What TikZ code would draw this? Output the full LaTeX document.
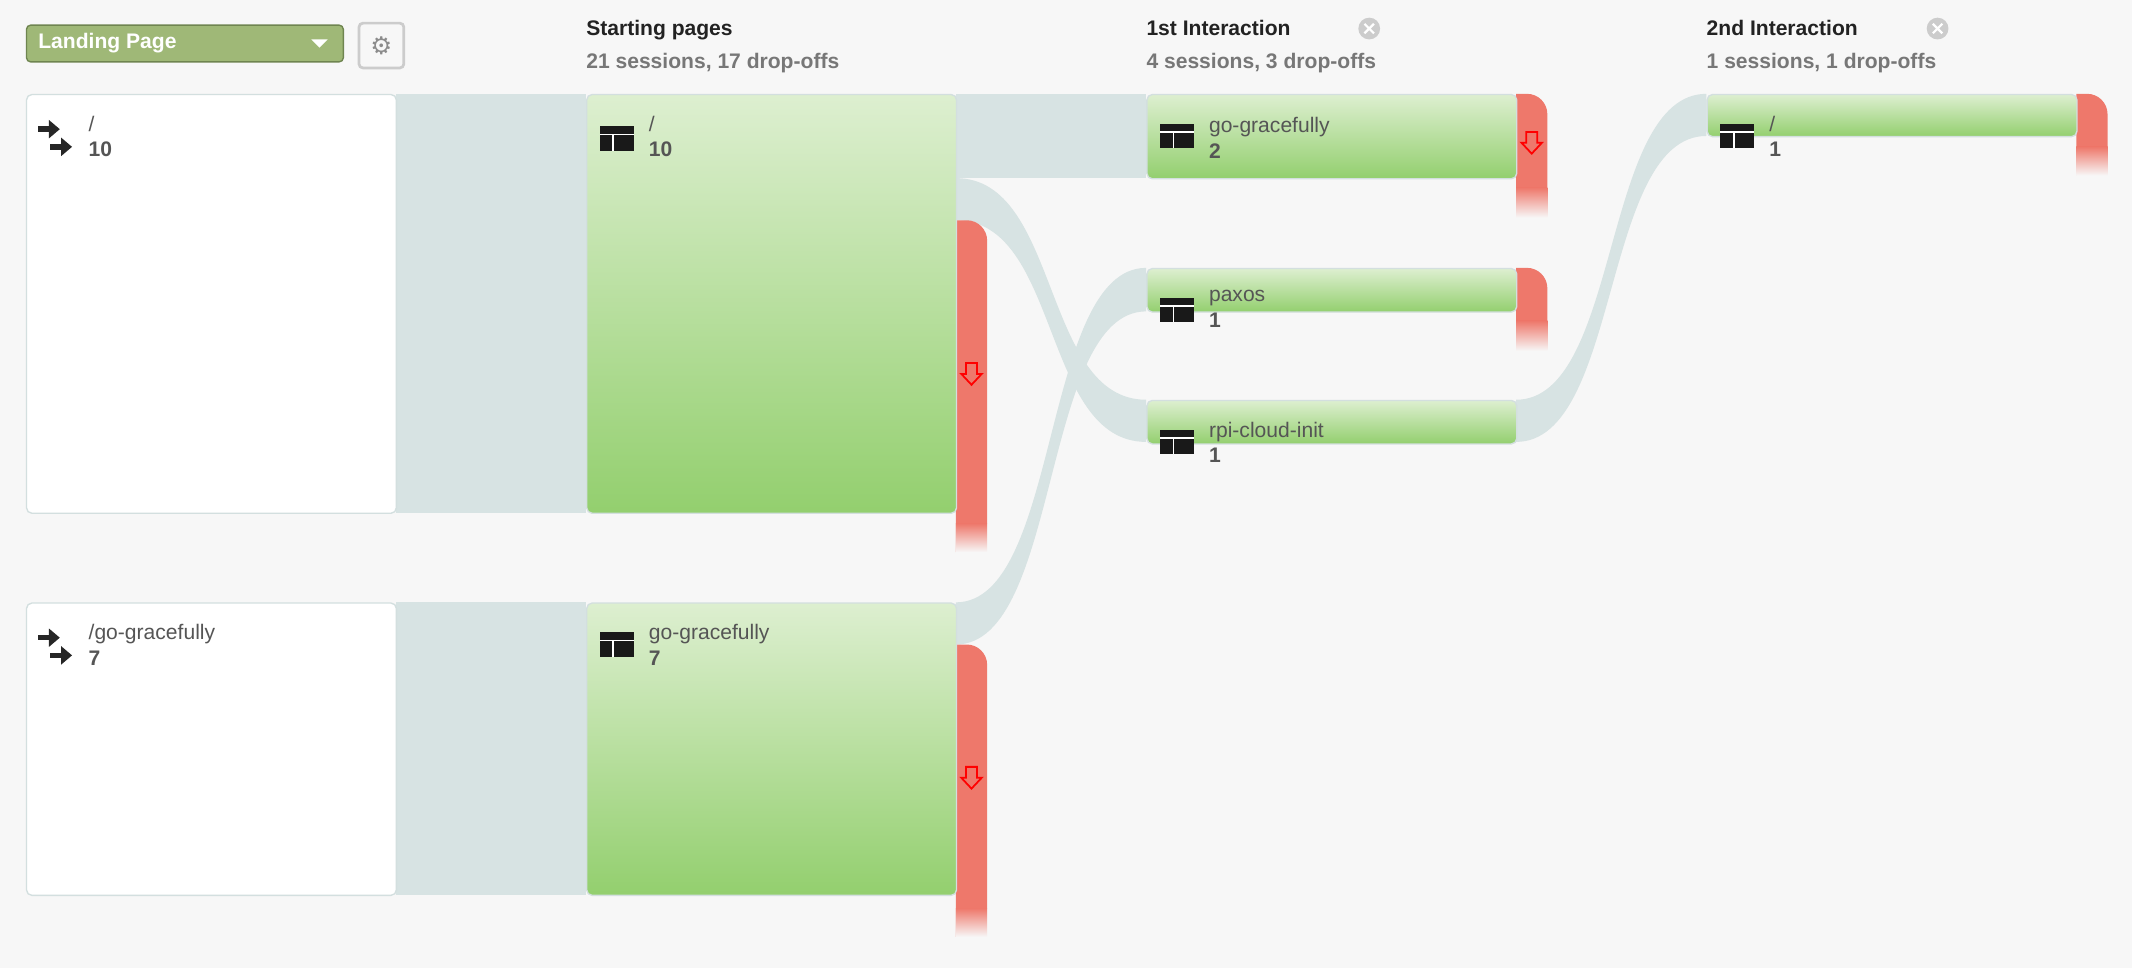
\documentclass[tikz,border=0pt]{standalone}
\usepackage{fontspec}
\setmainfont{Liberation Sans}
\newfontfamily\symfont{DejaVu Sans}
\usetikzlibrary{arrows.meta}
\definecolor{bg}{HTML}{F7F7F7}
\definecolor{band}{HTML}{D7E3E3}
\definecolor{gtop}{HTML}{DDEFD0}
\definecolor{gbot}{HTML}{93CF6E}
\definecolor{drop}{HTML}{EE786B}
\definecolor{txt}{HTML}{555555}
\definecolor{hdr}{HTML}{222222}
\definecolor{sub}{HTML}{777777}
\definecolor{ddfill}{HTML}{9FB877}
\definecolor{dddraw}{HTML}{6F8550}
\definecolor{boxline}{HTML}{D3DFDF}
\tikzset{
  x=1pt,y=-1pt,
  landbox/.style={draw=boxline,fill=white,rounded corners=4pt,line width=1pt,anchor=north west,inner sep=0pt},
  pagebox/.style={draw=boxline,top color=gtop,bottom color=gbot,rounded corners=4pt,line width=1pt,anchor=north west,inner sep=0pt},
  lbl/.style={anchor=north west,inner sep=0pt,align=left,font=\fontsize{15.5}{19}\selectfont,text=txt},
  hdrtxt/.style={anchor=north west,inner sep=0pt,align=left,font=\bfseries\fontsize{15.5}{24}\selectfont},
  bandfill/.style={fill=band},
  droparrow/.style={draw=red,line width=1.3pt,line join=miter}
}
\newcommand{\pageicon}[2]{%
  \fill[black!90] (#1,#2) rectangle ++(25,18);
  \draw[white,line width=1.3pt] (#1,#2+6) -- ++(25,0) (#1+10,#2+6) -- ++(0,12);}
\newcommand{\landicon}[2]{%
  \draw[black!85,line width=4pt,-{Triangle[length=8pt,width=13pt]}] (#1,#2) -- ++(16,0);
  \draw[black!85,line width=4pt,-{Triangle[length=8pt,width=13pt]}] (#1+9,#2+13) -- ++(16,0);}
\newcommand{\dropbar}[4]{% x, ytop, ybottom solid, yfade end
  \fill[drop] (#1,#4) -- (#1,#2) -- (#1+8,#2) arc[start angle=270,end angle=360,radius=15] -- (#1+23,#3) -- (#1,#3) -- cycle;
  \shade[top color=drop,bottom color=bg] (#1,#3) rectangle (#1+23,#4);}
\newcommand{\downarr}[2]{%
  \draw[droparrow] (#1-4,#2-8) -- (#1+4,#2-8) -- (#1+4,#2) -- (#1+7.5,#2) -- (#1,#2+8) -- (#1-7.5,#2) -- (#1-4,#2) -- cycle;}
\newcommand{\closeicon}[2]{%
  \fill[black!20] (#1,#2) circle[radius=8];
  \draw[white,line width=1.6pt] (#1-3.5,#2-3.5) -- (#1+3.5,#2+3.5) (#1-3.5,#2+3.5) -- (#1+3.5,#2-3.5);}
\begin{document}
\begin{tikzpicture}
\fill[bg] (0,0) rectangle (1568,712);
\useasboundingbox (0,0) rectangle (1568,712);

% top controls
\node[draw=dddraw,fill=ddfill,rounded corners=3pt,line width=1pt,anchor=north west,minimum width=233pt,minimum height=27pt,inner sep=0pt] (dd) at (19,18) {};
\node[anchor=west,text=white,font=\bfseries\fontsize{15.5}{18}\selectfont,inner sep=0pt] (ddt) at (28,31.5) {Landing Page};
\fill[white] (229,29) -- (241,29) -- (235,35) -- cycle;
\node[draw=black!20,fill=bg,rounded corners=3pt,line width=2pt,anchor=north west,minimum width=33pt,minimum height=33pt,inner sep=0pt] (gear) at (263,16) {};
\node[text=black!45,font=\symfont\fontsize{18}{18}\selectfont,inner sep=0pt] (geart) at (gear.center) {⚙};

% headers
\node[hdrtxt] (h1) at (431,15) {\textcolor{hdr}{Starting pages}\\\textcolor{sub}{21 sessions, 17 drop-offs}};
\node[hdrtxt] (h2) at (843,15) {\textcolor{hdr}{1st Interaction}\\\textcolor{sub}{4 sessions, 3 drop-offs}};
\node[hdrtxt] (h3) at (1255,15) {\textcolor{hdr}{2nd Interaction}\\\textcolor{sub}{1 sessions, 1 drop-offs}};
\closeicon{1007}{21}
\closeicon{1425}{21}

% bands
\fill[bandfill] (291,69) rectangle (431,377);
\fill[bandfill] (291,443) rectangle (431,658);
\fill[bandfill] (703,69) rectangle (843,131);
\fill[bandfill] (703,131) .. controls (780,131) and (766,294) .. (843,294) -- (843,325) .. controls (766,325) and (780,162) .. (703,162) -- cycle;
\fill[bandfill] (703,443) .. controls (780,443) and (766,197) .. (843,197) -- (843,229) .. controls (766,229) and (780,474) .. (703,474) -- cycle;
\fill[bandfill] (1115,294) .. controls (1192,294) and (1178,69) .. (1255,69) -- (1255,100) .. controls (1178,100) and (1192,325) .. (1115,325) -- cycle;

% drop-offs
\dropbar{703}{162}{385}{406}
\downarr{714.5}{275}
\dropbar{703}{474}{668}{689}
\downarr{714.5}{572}
\dropbar{1115}{69}{138}{160}
\downarr{1126.5}{105}
\dropbar{1115}{197}{236}{258}
\dropbar{1527}{69}{108}{129}

% landing boxes
\node[landbox,minimum width=272pt,minimum height=308pt] (l1) at (19,69) {};
\node[landbox,minimum width=272pt,minimum height=215pt] (l2) at (19,443) {};
\landicon{28}{95}
\landicon{28}{469}
\node[lbl] (l1t) at (65,85) {/\\\textbf{10}};
\node[lbl] (l2t) at (65,459) {/go-gracefully\\\textbf{7}};

% page nodes
\node[pagebox,minimum width=272pt,minimum height=308pt] (s1) at (431,69) {};
\node[pagebox,minimum width=272pt,minimum height=215pt] (s2) at (431,443) {};
\node[pagebox,minimum width=272pt,minimum height=62pt] (i1) at (843,69) {};
\node[pagebox,minimum width=272pt,minimum height=32pt] (i2) at (843,197) {};
\node[pagebox,minimum width=272pt,minimum height=32pt] (i3) at (843,294) {};
\node[pagebox,minimum width=272pt,minimum height=31pt] (j1) at (1255,69) {};

\pageicon{441}{93}
\node[lbl] (s1t) at (477,85) {/\\\textbf{10}};
\pageicon{441}{465}
\node[lbl] (s2t) at (477,459) {go-gracefully\\\textbf{7}};
\pageicon{853}{91}
\node[lbl] (i1t) at (889,86) {go-gracefully\\\textbf{2}};
\pageicon{853}{219}
\node[lbl] (i2t) at (889,213) {paxos\\\textbf{1}};
\pageicon{853}{316}
\node[lbl] (i3t) at (889,310) {rpi-cloud-init\\\textbf{1}};
\pageicon{1265}{91}
\node[lbl] (j1t) at (1301,85) {/\\\textbf{1}};
\end{tikzpicture}
\end{document}
